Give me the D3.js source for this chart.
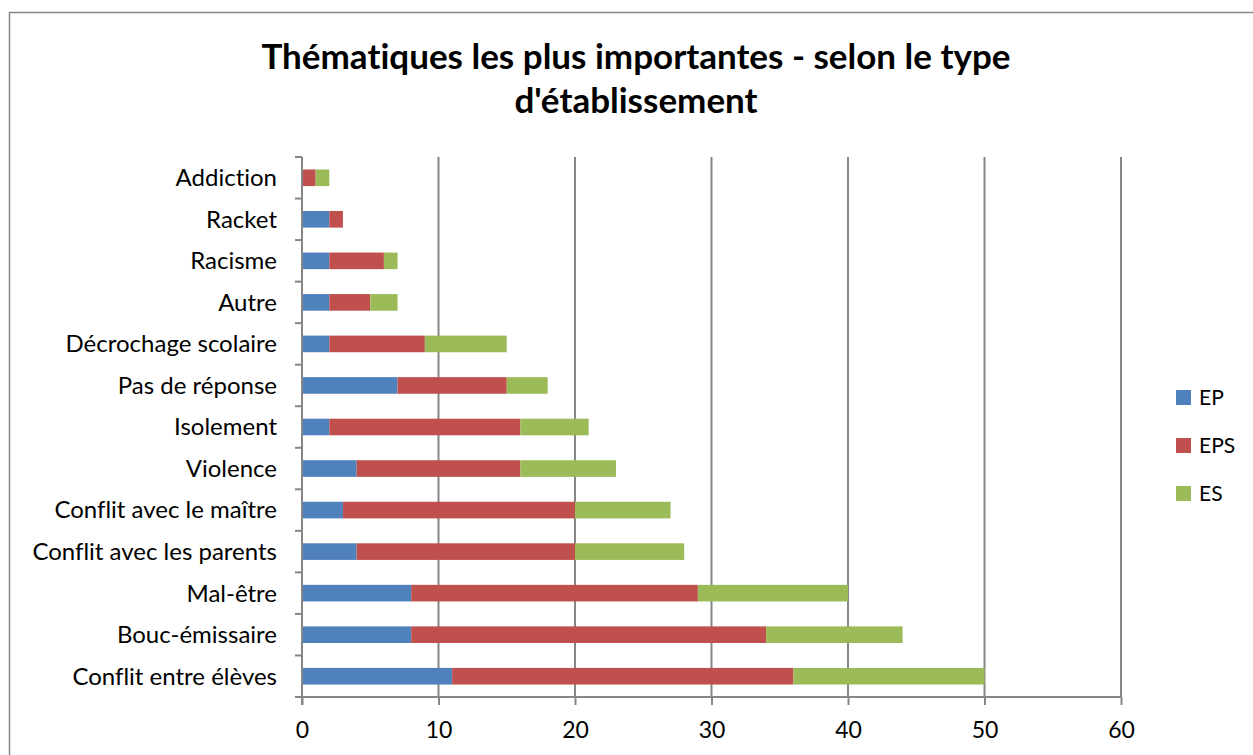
<!DOCTYPE html>
<html>
<head>
<meta charset="utf-8">
<script src="https://cdn.jsdelivr.net/npm/d3@7"></script>
<style>
  body { margin: 0; background: #fff; }
  #container { width: 1253px; height: 755px; }
  text { font-family: Lato, "Open Sans", sans-serif; font-variant-ligatures: none; }
</style>
</head>
<body>
<div id="container"></div>
<script>
// catégories, de haut en bas
const categories = ["Addiction", "Racket", "Racisme", "Autre", "Décrochage scolaire", "Pas de réponse",
  "Isolement", "Violence", "Conflit avec le maître", "Conflit avec les parents", "Mal-être",
  "Bouc-émissaire", "Conflit entre élèves"];
const seriesNames = ["EP", "EPS", "ES"];
const valuesEP  = [0, 2, 2, 2, 2, 7, 2, 4, 3, 4, 8, 8, 11];
const valuesEPS = [1, 1, 4, 3, 7, 8, 14, 12, 17, 16, 21, 26, 25];
const valuesES  = [1, 0, 1, 2, 6, 3, 5, 7, 7, 8, 11, 10, 14];
const xTicks = [0, 10, 20, 30, 40, 50, 60];
const colors = ["#4f81bd", "#c0504d", "#9bbb59"];
const titleLines = ["Thématiques les plus importantes - selon le type", "d'établissement"];

const width = 1253, height = 755;
const marginLeft = 302, marginRight = 132, marginTop = 157, marginBottom = 58;

const svg = d3.select("#container").append("svg")
  .attr("width", width).attr("height", height)
  .attr("viewBox", [0, 0, width, height]);

// cadre du graphique
svg.append("rect")
  .attr("x", 9.5).attr("y", 12.5)
  .attr("width", width + 10).attr("height", height + 10)
  .attr("fill", "none").attr("stroke", "#868686").attr("stroke-width", 1.5);

// titre
svg.append("text")
  .attr("x", 636).attr("y", 69)
  .attr("text-anchor", "middle")
  .attr("font-size", 35).attr("font-weight", "bold")
  .selectAll("tspan").data(titleLines).join("tspan")
  .attr("x", 636).attr("dy", (d, i) => i ? 44 : 0)
  .text(d => d);

// données empilées
const table = categories.map((c, i) => ({ cat: c, EP: valuesEP[i], EPS: valuesEPS[i], ES: valuesES[i] }));
const stacked = d3.stack().keys(seriesNames)(table);

const x = d3.scaleLinear().domain([0, 60]).range([marginLeft, width - marginRight]);
const y = d3.scaleBand().domain(categories).range([marginTop, height - marginBottom]).paddingInner(0.6).paddingOuter(0.3);
const yTick = d3.scaleLinear().domain([0, categories.length]).range([marginTop, height - marginBottom]);

// grille verticale
svg.append("g")
  .selectAll("line").data(xTicks.slice(1)).join("line")
  .attr("x1", d => x(d)).attr("x2", d => x(d))
  .attr("y1", marginTop).attr("y2", height - marginBottom)
  .attr("stroke", "#868686").attr("stroke-width", 2);

// barres
svg.append("g")
  .selectAll("g").data(stacked).join("g")
  .attr("fill", (d, i) => colors[i])
  .selectAll("rect").data(d => d).join("rect")
  .attr("x", d => x(d[0]))
  .attr("y", d => y(d.data.cat))
  .attr("width", d => x(d[1]) - x(d[0]))
  .attr("height", y.bandwidth());

// axe horizontal
svg.append("g")
  .attr("transform", `translate(0,${height - marginBottom})`)
  .call(d3.axisBottom(x).tickValues(xTicks).tickSize(8).tickPadding(17))
  .call(g => g.select(".domain").attr("stroke", "#868686").attr("stroke-width", 2).attr("d", `M${marginLeft - 7},0H${width - marginRight}`))
  .call(g => g.selectAll(".tick line").attr("stroke", "#868686").attr("stroke-width", 2))
  .call(g => g.selectAll(".tick text").attr("font-size", 23).attr("fill", "#000")
    .attr("font-family", "Lato, 'Open Sans', sans-serif"));

// axe vertical
const yAxis = svg.append("g").attr("transform", `translate(${marginLeft},0)`);
yAxis.append("line")
  .attr("y1", marginTop).attr("y2", height - marginBottom + 8)
  .attr("stroke", "#868686").attr("stroke-width", 2);
yAxis.selectAll(".tk").data(d3.range(categories.length + 1)).join("line")
  .attr("class", "tk")
  .attr("x1", -7).attr("x2", 0)
  .attr("y1", d => yTick(d)).attr("y2", d => yTick(d))
  .attr("stroke", "#868686").attr("stroke-width", 2);
yAxis.selectAll("text").data(categories).join("text")
  .attr("x", -25)
  .attr("y", d => y(d) + y.bandwidth() / 2)
  .attr("dy", "0.35em")
  .attr("text-anchor", "end")
  .attr("font-size", 24)
  .text(d => d);

// légende
const legend = svg.append("g").attr("transform", "translate(1176,390)")
  .selectAll("g").data(seriesNames).join("g")
  .attr("transform", (d, i) => `translate(0,${i * 48})`);
legend.append("rect").attr("width", 15).attr("height", 15).attr("fill", (d, i) => colors[i]);
legend.append("text").attr("x", 23).attr("y", 8).attr("dy", "0.35em")
  .attr("font-size", 21).text(d => d);
</script>
</body>
</html>
